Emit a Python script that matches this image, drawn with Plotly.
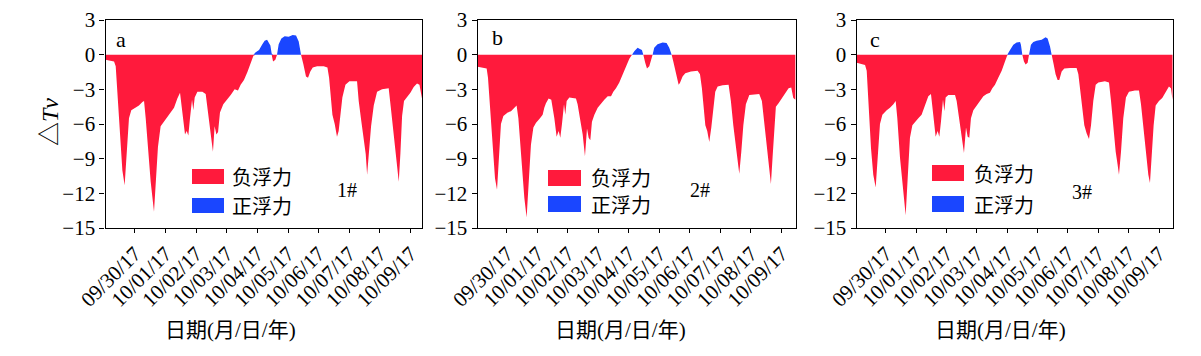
import pandas as pd
import plotly.graph_objects as go

# ---------------- data ----------------
start_time = "2017-09-29 01:00"
tick_dates = ["2017-09-30", "2017-10-01", "2017-10-02", "2017-10-03", "2017-10-04",
              "2017-10-05", "2017-10-06", "2017-10-07", "2017-10-08", "2017-10-09"]
tick_labels = ["09/30/17", "10/01/17", "10/02/17", "10/03/17", "10/04/17",
               "10/05/17", "10/06/17", "10/07/17", "10/08/17", "10/09/17"]
y_ticks = [-15, -12, -9, -6, -3, 0, 3]

panel_names = ["a", "b", "c"]
station_names = ["1#", "2#", "3#"]
legend_names = ["负浮力", "正浮力"]

hours_1 = [0, 4.0, 6.7, 8.0, 9.8, 11.4, 13.2, 15.0, 16.6, 18.4, 20.2, 23.6, 26.2, 28.9, 30.2,
           31.5, 33.3, 35.4, 38.0, 39.3, 41.1, 43.2, 45.8, 48.5, 51.1, 53.7, 56.3, 58.4, 59.7,
           61.0, 62.3, 63.6, 64.9, 66.2, 67.8, 68.8, 69.9, 72.0, 75.9, 78.5, 80.3, 82.4, 84.2,
           85.5, 86.9, 88.2, 89.7, 92.3, 95.5, 98.1, 101.2, 103.8, 105.9, 108.5, 111.2, 113.8,
           115.9, 117.7, 120.3, 122.9, 124.7, 126.6, 127.9, 129.2, 130.2, 131.3, 133.1, 134.4,
           135.7, 137.8, 140.4, 143.5, 146.7, 149.3, 151.4, 153.2, 155.0, 157.1, 158.7, 160.5,
           162.4, 165.8, 171.0, 173.9, 175.2, 176.5, 177.8, 179.6, 181.4, 182.7, 184.0, 185.6,
           188.0, 191.1, 197.1, 198.4, 200.5, 202.3, 203.9, 205.0, 206.2, 208.1, 210.2, 212.8,
           216.7, 221.9, 223.5, 225.3, 227.1, 228.4, 229.8, 231.1, 232.4, 233.9, 236.3, 238.9,
           241.5, 244.1, 246.0, 248.0]
dtv_1 = [-0.45, -0.55, -0.6, -1.0, -4.5, -7.5, -10.0, -11.3, -8.5, -5.5, -4.8, -4.6, -4.4, -4.1, -4.0,
         -5.5, -8.0, -11.0, -13.6, -11.5, -8.0, -6.2, -5.8, -5.3, -5.0, -4.6, -3.8, -3.3, -4.5,
         -6.0, -6.9, -6.6, -7.0, -5.5, -3.9, -4.8, -3.7, -3.2, -3.2, -3.4, -5.0, -6.5, -8.4,
         -6.2, -6.9, -6.7, -5.0, -4.3, -3.9, -3.5, -3.0, -3.1, -2.6, -2.2, -1.5, -0.7,
         -0.1, 0.2, 0.4, 0.9, 1.2, 1.3, 1.1, 0.8, 0.1, -0.6, -0.45, 0.0,
         0.9, 1.4, 1.6, 1.55, 1.7, 1.65, 1.15, 0.0, -0.8, -1.9, -2.0, -1.45,
         -1.1, -1.0, -1.0, -1.1, -2.0, -3.8, -5.2, -6.0, -7.1, -6.6, -5.0, -3.7,
         -2.6, -2.3, -2.3, -4.0, -5.8, -7.2, -8.6, -10.4, -8.8, -6.2, -4.4, -3.2,
         -3.0, -2.9, -4.5, -6.5, -8.5, -9.8, -11.0, -8.5, -5.3, -4.0, -3.7, -3.3,
         -2.8, -2.5, -2.6, -3.8]

hours_2 = [0, 3.9, 7.05, 8.1, 9.7, 11.8, 13.6, 15.2, 16.5, 18.3, 20.2, 23.6, 26.2, 28.8, 30.6,
           32.0, 34.1, 36.7, 38.5, 40.1, 41.9, 43.8, 45.9, 49.0, 51.1, 52.4, 53.7, 55.8, 57.9,
           60.3, 62.1, 63.7, 65.0, 66.3, 67.9, 68.9, 70.0, 72.1, 77.3, 78.6, 80.5, 82.6, 84.4,
           86.0, 87.3, 88.6, 89.9, 91.8, 94.4, 97.0, 99.6, 102.3, 104.9, 106.7, 108.8, 111.4,
           114.1, 116.7, 119.3, 121.4, 123.2, 125.8, 127.6, 129.2, 130.3, 131.8, 133.2, 135.0,
           136.3, 137.6, 138.9, 141.5, 145.5, 148.6, 150.7, 152.6, 153.9, 156.0, 158.1, 159.1,
           161.2, 163.3, 167.8, 173.0, 174.9, 176.4, 177.7, 179.1, 180.6, 182.2, 183.8, 185.3,
           186.9, 188.8, 192.7, 197.4, 199.2, 201.1, 203.2, 204.5, 205.8, 207.4, 209.0, 211.0,
           213.7, 217.6, 221.5, 223.6, 225.5, 227.6, 229.4, 230.7, 232.0, 233.3, 234.6, 236.7,
           239.4, 242.0, 244.6, 246.7, 248.3, 250.0]
dtv_2 = [-1.05, -1.1, -1.2, -2.0, -4.5, -8.4, -10.7, -11.7, -9.2, -6.0, -5.3, -5.0, -4.9, -4.6, -4.4,
         -5.5, -8.9, -12.4, -14.1, -11.2, -7.8, -6.3, -5.9, -5.5, -5.2, -4.6, -4.2, -3.8, -3.9,
         -5.5, -7.1, -6.6, -7.2, -6.0, -4.3, -5.2, -4.0, -3.7, -3.8, -4.3, -5.5, -6.9, -8.8,
         -6.4, -7.2, -7.4, -5.8, -5.2, -4.6, -4.2, -3.9, -3.6, -3.6, -3.2, -2.9, -2.4,
         -1.7, -0.9, -0.35, 0.0, 0.3, 0.6, 0.5, 0.4, 0.0, -0.7, -1.2, -1.0,
         -0.45, 0.0, 0.6, 0.9, 1.05, 1.0, 0.6, 0.0, -0.6, -1.7, -2.6, -2.45,
         -1.9, -1.6, -1.45, -1.4, -1.7, -2.9, -4.6, -6.1, -6.6, -7.55, -6.3, -4.6,
         -3.2, -2.75, -2.65, -2.6, -4.0, -6.1, -8.1, -9.0, -10.3, -8.4, -6.1, -4.3,
         -3.5, -3.45, -3.4, -4.0, -6.1, -8.4, -10.1, -11.2, -8.9, -6.3, -4.5, -4.2,
         -3.75, -3.3, -2.9, -2.85, -3.75, -3.9]

hours_3 = [0, 3.9, 6.6, 7.9, 9.2, 11.3, 13.1, 15.0, 16.6, 18.4, 20.3, 23.7, 26.3, 29.0, 30.8,
           32.1, 34.2, 36.9, 38.7, 40.3, 42.1, 44.0, 46.1, 48.7, 51.3, 54.0, 56.6, 58.7, 60.6,
           62.4, 64.0, 65.3, 66.6, 68.2, 69.3, 70.3, 72.4, 77.7, 79.0, 80.8, 83.0, 84.8,
           86.4, 87.7, 89.0, 90.3, 92.2, 94.8, 97.4, 100.1, 102.7, 105.3, 107.2, 109.3, 111.9,
           114.6, 117.2, 119.0, 121.2, 123.8, 126.4, 129.1, 129.8, 130.9, 132.2, 133.5, 135.1,
           136.2, 137.7, 139.6, 142.2, 146.2, 149.3, 150.9, 152.8, 154.1, 155.7, 157.2, 158.8,
           160.1, 162.0, 164.1, 168.6, 173.8, 175.2, 176.7, 178.3, 179.9, 181.7, 183.6, 185.2,
           187.0, 188.9, 191.0, 196.2, 199.4, 201.0, 202.8, 204.7, 206.2, 207.3, 208.9, 210.7,
           212.8, 215.2, 219.9, 223.1, 224.7, 226.5, 228.6, 230.5, 231.8, 233.1, 234.7, 236.3,
           238.9, 241.5, 244.2, 246.8, 248.4, 249.6]
dtv_3 = [-0.7, -0.8, -0.9, -1.4, -4.0, -8.1, -10.4, -11.5, -8.9, -6.0, -5.2, -4.8, -4.6, -4.3, -4.0,
         -5.5, -8.9, -12.1, -13.9, -10.7, -7.2, -6.1, -5.8, -5.5, -5.2, -4.3, -3.6, -3.4, -5.2,
         -7.1, -6.6, -7.1, -5.8, -3.9, -4.9, -3.7, -3.5, -3.5, -4.0, -5.5, -6.9, -8.5,
         -6.3, -7.1, -7.2, -5.5, -4.8, -4.4, -4.0, -3.6, -3.4, -3.3, -2.9, -2.6, -2.0,
         -1.4, -0.6, -0.05, 0.4, 0.85, 1.05, 1.1, 0.85, 0.0, -0.6, -0.85, -0.7,
         0.0, 0.85, 1.1, 1.2, 1.3, 1.5, 1.4, 0.7, 0.0, -0.85, -1.7, -2.2,
         -2.2, -1.45, -1.2, -1.15, -1.15, -1.7, -3.2, -4.9, -6.1, -6.8, -7.3, -6.1,
         -4.0, -2.6, -2.4, -2.3, -2.4, -4.0, -6.3, -8.4, -9.5, -10.4, -8.4, -5.5,
         -3.7, -3.2, -3.1, -3.1, -4.3, -6.3, -8.9, -10.4, -11.1, -8.9, -6.1, -4.4,
         -4.0, -3.75, -3.2, -2.75, -2.9, -3.9]

series_hours = [hours_1, hours_2, hours_3]
series_dtv = [dtv_1, dtv_2, dtv_3]
panel_span_hours = [248.0, 250.2, 250.0]

# ---------------- styling / layout ----------------
W, H = 1201, 356
PAGE_OFFSET = 8  # default body margin of the html page
RED = "#FF1A3C"
BLUE = "#1A46FF"
SERIF = "Liberation Serif, Noto Sans CJK SC, serif"

# plot-area pixel boxes in window coordinates (left, right) and shared top/bottom
panel_px = [(105.5, 422.0), (477.7, 795.7), (856.7, 1173.0)]
top_px, bot_px = 20.0, 228.0
legend_box_px = [(192, 224, 169, 184, 198, 213),
                 (548, 581, 170, 186, 196, 212),
                 (932, 964, 165, 181, 196, 212)]
legend_text_x = [230, 589, 972]
station_px = [(347, 190), (700, 190), (1082, 192)]
letter_px = [(121, 39), (497, 37), (875, 39)]
xtitle_px = [(230, 330), (620, 330), (1000, 330)]


def px(x):
    return (x - PAGE_OFFSET) / W


def py(y):
    return 1 - (y - PAGE_OFFSET) / H


fig = go.Figure()
t0 = pd.Timestamp(start_time)
annotations = []
shapes = []

for i in range(3):
    sfx = "" if i == 0 else str(i + 1)
    times = [t0 + pd.Timedelta(hours=h) for h in series_hours[i]]
    neg = [min(v, 0.0) for v in series_dtv[i]]
    pos = [max(v, 0.0) for v in series_dtv[i]]
    fig.add_trace(go.Scatter(x=times, y=neg, mode="lines", fill="tozeroy",
                             line=dict(color=RED, width=0), fillcolor=RED,
                             xaxis="x" + sfx, yaxis="y" + sfx, showlegend=False,
                             name=legend_names[0]))
    fig.add_trace(go.Scatter(x=times, y=pos, mode="lines", fill="tozeroy",
                             line=dict(color=BLUE, width=0), fillcolor=BLUE,
                             xaxis="x" + sfx, yaxis="y" + sfx, showlegend=False,
                             name=legend_names[1]))

    x_end = t0 + pd.Timedelta(hours=panel_span_hours[i])
    fig.layout["xaxis" + sfx] = dict(
        domain=[px(panel_px[i][0]), px(panel_px[i][1])],
        anchor="y" + sfx, type="date", range=[t0, x_end], automargin=False,
        tickvals=tick_dates, ticktext=tick_labels, tickangle=-45,
        ticks="outside", ticklen=4, tickwidth=1.2, tickcolor="black",
        showline=True, mirror=True, linecolor="black", linewidth=1.3,
        showgrid=False, zeroline=False,
        tickfont=dict(family=SERIF, size=21, color="black"))
    fig.layout["yaxis" + sfx] = dict(
        domain=[py(bot_px), py(top_px)], anchor="x" + sfx, automargin=False,
        range=[-15, 3], tickvals=y_ticks,
        ticks="outside", ticklen=5, tickwidth=1.2, tickcolor="black",
        showline=True, mirror=True, linecolor="black", linewidth=1.3,
        showgrid=False, zeroline=False,
        tickfont=dict(family=SERIF, size=21, color="black"))

    # legend boxes
    x0, x1, r0, r1, b0, b1 = legend_box_px[i]
    shapes.append(dict(type="rect", xref="paper", yref="paper", x0=px(x0), x1=px(x1),
                       y0=py(r1), y1=py(r0), fillcolor=RED, line=dict(width=0)))
    shapes.append(dict(type="rect", xref="paper", yref="paper", x0=px(x0), x1=px(x1),
                       y0=py(b1), y1=py(b0), fillcolor=BLUE, line=dict(width=0)))
    annotations.append(dict(text=legend_names[0], xref="paper", yref="paper",
                            x=px(legend_text_x[i]), y=py((r0 + r1) / 2), xanchor="left",
                            yanchor="middle", showarrow=False,
                            font=dict(family="Noto Sans CJK SC", size=20, color="black")))
    annotations.append(dict(text=legend_names[1], xref="paper", yref="paper",
                            x=px(legend_text_x[i]), y=py((b0 + b1) / 2), xanchor="left",
                            yanchor="middle", showarrow=False,
                            font=dict(family="Noto Sans CJK SC", size=20, color="black")))
    annotations.append(dict(text=station_names[i], xref="paper", yref="paper",
                            x=px(station_px[i][0]), y=py(station_px[i][1]), xanchor="center",
                            yanchor="middle", showarrow=False,
                            font=dict(family=SERIF, size=20, color="black")))
    annotations.append(dict(text=panel_names[i], xref="paper", yref="paper",
                            x=px(letter_px[i][0]), y=py(letter_px[i][1]), xanchor="center",
                            yanchor="middle", showarrow=False,
                            font=dict(family=SERIF, size=22, color="black")))
    annotations.append(dict(text="日期(月/日/年)", xref="paper", yref="paper",
                            x=px(xtitle_px[i][0]), y=py(xtitle_px[i][1]), xanchor="center",
                            yanchor="middle", showarrow=False,
                            font=dict(family=SERIF, size=21, color="black")))

annotations.append(dict(text="△<i>Tv</i>", xref="paper", yref="paper",
                        x=px(50), y=py(122), xanchor="center", yanchor="middle",
                        textangle=-90, showarrow=False,
                        font=dict(family=SERIF, size=24, color="black")))

fig.update_layout(width=W, height=H, margin=dict(l=0, r=0, t=0, b=0),
                  paper_bgcolor="white", plot_bgcolor="white",
                  showlegend=False, annotations=annotations, shapes=shapes)

fig.write_html("out.html")
